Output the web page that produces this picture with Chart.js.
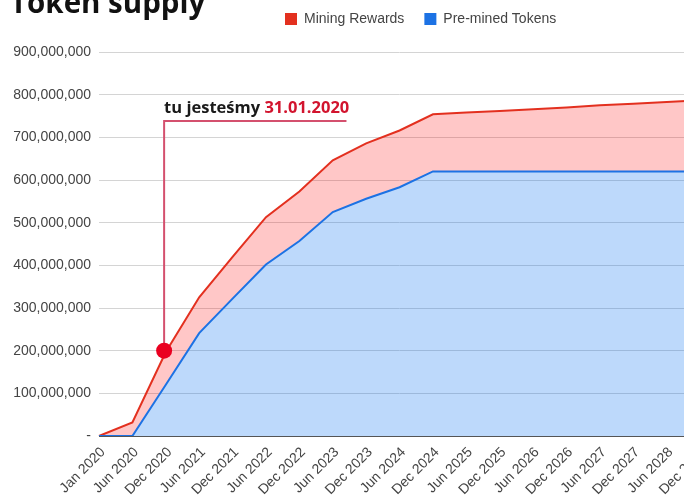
<!DOCTYPE html>
<html lang="en">
<head>
<meta charset="UTF-8">
<title>Token supply</title>
<script src="https://cdn.jsdelivr.net/npm/chart.js"></script>
<style>
  body { margin: 0; overflow: hidden; background: #fff; }
  #wrap { position: absolute; left: 0; top: -17px; width: 720px; height: 512px; }
</style>
</head>
<body>
<div id="wrap"><canvas id="supplyChart"></canvas></div>
<script>
// half-year steps
const labels = ['Jan 2020', 'Jun 2020', 'Dec 2020', 'Jun 2021', 'Dec 2021', 'Jun 2022', 'Dec 2022',
  'Jun 2023', 'Dec 2023', 'Jun 2024', 'Dec 2024', 'Jun 2025', 'Dec 2025', 'Jun 2026', 'Dec 2026',
  'Jun 2027', 'Dec 2027', 'Jun 2028', 'Dec 2028'];

// tokens, stacked: pre-mined at the bottom, mining rewards on top
const premined = [0, 0, 120000000, 241000000, 322000000, 402000000, 457000000, 525000000, 556000000,
  583000000, 620000000, 620000000, 620000000, 620000000, 620000000, 620000000, 620000000, 620000000, 620000000];
const miningRewards = [0, 32000000, 77000000, 84000000, 98000000, 111000000, 116000000, 121000000, 130000000,
  133000000, 134000000, 138000000, 142000000, 146000000, 150000000, 155000000, 159000000, 163000000, 167000000];

const yMax = 900000000;
const yStep = 100000000;

// "tu jesteśmy" marker, in axis units (category index, tokens)
const markerAt = 1.95;
const markerValue = 200000000;
const calloutValue = 738000000;
const calloutEnd = 7.41;
const calloutTextValue = 757000000;
const calloutText = ['tu jesteśmy ', '31.01.2020'];

Chart.defaults.font.family = '"Liberation Sans", Arial, sans-serif';
Chart.defaults.color = '#444';

const callout = {
  id: 'callout',
  afterDatasetsDraw(chart) {
    const { ctx, scales: { x, y } } = chart;
    const mx = x.getPixelForValue(markerAt);
    const my = y.getPixelForValue(markerValue);
    const cy = y.getPixelForValue(calloutValue);
    const ex = x.getPixelForValue(calloutEnd);
    const ty = y.getPixelForValue(calloutTextValue);
    ctx.save();
    ctx.strokeStyle = '#d4506e';
    ctx.lineWidth = 2;
    ctx.beginPath();
    ctx.moveTo(ex, cy);
    ctx.lineTo(mx, cy);
    ctx.lineTo(mx, my);
    ctx.stroke();
    ctx.fillStyle = '#ea0020';
    ctx.beginPath();
    ctx.arc(mx, my, 8, 0, Math.PI * 2);
    ctx.fill();
    ctx.font = 'bold 16.5px "Open Sans"';
    ctx.textBaseline = 'alphabetic';
    ctx.textAlign = 'left';
    ctx.fillStyle = '#1a1a1a';
    ctx.fillText(calloutText[0], mx, ty);
    const w = ctx.measureText(calloutText[0]).width;
    ctx.fillStyle = '#d2142e';
    ctx.fillText(calloutText[1], mx + w, ty);
    ctx.restore();
  }
};

// move the legend row to the right, like the original
const legendLeft = 285;
const legendPlacer = {
  id: 'legendPlacer',
  afterLayout(chart) {
    const lg = chart.legend;
    const pad = lg.options.labels.padding;
    const start = (lg.left + pad + lg.right - lg.lineWidths[0]) / 2;
    const dx = legendLeft - start;
    lg.left += dx;
    lg.right += dx;
  }
};

new Chart(document.getElementById('supplyChart'), {
  type: 'line',
  data: {
    labels: labels,
    datasets: [
      {
        label: 'Pre-mined Tokens',
        data: premined,
        borderColor: '#1c72e4',
        backgroundColor: 'rgba(0,110,240,0.26)',
        fill: 'origin',
        borderWidth: 2,
        pointRadius: 0,
        tension: 0
      },
      {
        label: 'Mining Rewards',
        data: miningRewards,
        borderColor: '#e3301f',
        backgroundColor: 'rgba(255,0,0,0.22)',
        fill: '-1',
        borderWidth: 2,
        pointRadius: 0,
        tension: 0
      }
    ]
  },
  options: {
    responsive: true,
    maintainAspectRatio: false,
    animation: false,
    layout: { padding: { left: 10, right: 16, top: 0, bottom: 0 } },
    plugins: {
      title: {
        display: true,
        text: 'Token supply',
        align: 'start',
        color: '#111',
        font: { family: '"Open Sans"', size: 29.5, weight: 'bold', lineHeight: 1.2 },
        padding: { top: 3.5, bottom: -29.9 }
      },
      // empty subtitle only keeps some room between the legend and the plot
      subtitle: {
        display: true,
        text: '',
        weight: 500,
        font: { size: 10, lineHeight: 1 },
        padding: { top: 0, bottom: 6 }
      },
      legend: {
        reverse: true,
        labels: {
          boxWidth: 12,
          boxHeight: 12,
          padding: 20,
          color: '#444',
          font: { size: 14 },
          generateLabels(chart) {
            const items = Chart.defaults.plugins.legend.labels.generateLabels(chart);
            items.forEach(it => {
              const ds = chart.data.datasets[it.datasetIndex];
              it.fillStyle = ds.borderColor;
              it.strokeStyle = ds.borderColor;
              it.lineWidth = 0;
            });
            return items;
          }
        }
      },
      tooltip: { enabled: false }
    },
    scales: {
      x: {
        grid: { display: false, drawTicks: false },
        border: { display: true, color: '#555', width: 1 },
        ticks: {
          autoSkip: false, minRotation: 45, maxRotation: 45,
          padding: 8, labelOffset: 4, color: '#444', font: { size: 14 }
        },
        afterFit(s) { s.height = 59; }
      },
      y: {
        stacked: true,
        min: 0,
        max: yMax,
        grid: { color: '#d4d4d4', drawTicks: false },
        border: { display: false },
        ticks: {
          stepSize: yStep,
          padding: 8,
          color: '#444',
          font: { size: 14 },
          callback: v => v === 0 ? '-' : v.toLocaleString('en-US')
        },
        afterFit(s) { s.width = 89; }
      }
    }
  },
  plugins: [callout, legendPlacer]
});
</script>
</body>
</html>
